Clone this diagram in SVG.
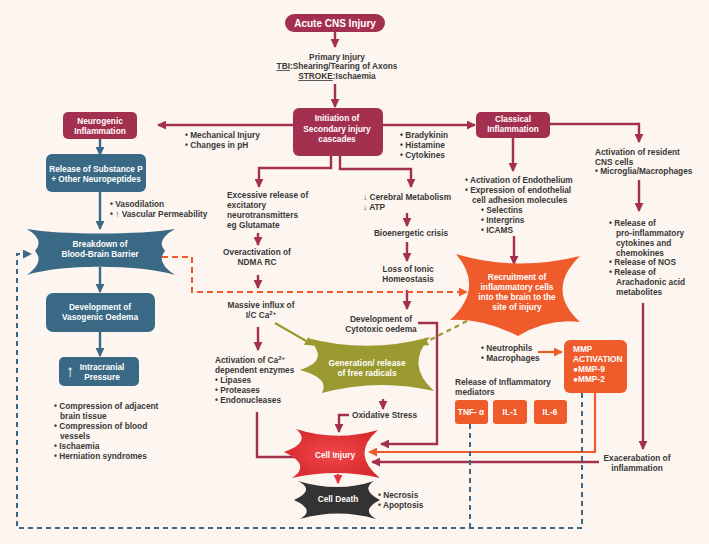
<svg xmlns="http://www.w3.org/2000/svg" width="709" height="544" viewBox="0 0 709 544">
<defs>
<style>
.t{font-family:"Liberation Sans",Arial,sans-serif;font-size:8.3px;font-weight:bold;fill:#383838}
.w{font-family:"Liberation Sans",Arial,sans-serif;font-size:8.3px;font-weight:bold;fill:#fff}
.m{text-anchor:middle}
.cm{fill:none;stroke:#a4304f;stroke-width:2.4}
.ct{fill:none;stroke:#3a6985;stroke-width:2.4}
.co{fill:none;stroke:#ef5b2b;stroke-width:2.2}
.cg{fill:none;stroke:#9b9a30;stroke-width:2.2}
.cr{fill:none;stroke:#e4363a;stroke-width:2.4}
.db{fill:none;stroke:#3a6985;stroke-width:2;stroke-dasharray:5 4}
.do{fill:none;stroke:#ef5b2b;stroke-width:2;stroke-dasharray:6 4}
.dg{fill:none;stroke:#9b9a30;stroke-width:2.2;stroke-dasharray:5 4}
.bm{fill:#a4304f}
.bt{fill:#3a6985}
.bo{fill:#ef5b2b}
</style>
<marker id="am" viewBox="0 0 10 10" refX="9" refY="5" markerWidth="9" markerHeight="9" markerUnits="userSpaceOnUse" orient="auto"><path d="M0,0 L10,5 L0,10 z" fill="#a4304f"/></marker>
<marker id="at" viewBox="0 0 10 10" refX="9" refY="5" markerWidth="9" markerHeight="9" markerUnits="userSpaceOnUse" orient="auto"><path d="M0,0 L10,5 L0,10 z" fill="#3a6985"/></marker>
<marker id="ao" viewBox="0 0 10 10" refX="9" refY="5" markerWidth="9" markerHeight="9" markerUnits="userSpaceOnUse" orient="auto"><path d="M0,0 L10,5 L0,10 z" fill="#ef5b2b"/></marker>
<marker id="ag" viewBox="0 0 10 10" refX="9" refY="5" markerWidth="9" markerHeight="9" markerUnits="userSpaceOnUse" orient="auto"><path d="M0,0 L10,5 L0,10 z" fill="#9b9a30"/></marker>
<marker id="ar" viewBox="0 0 10 10" refX="9" refY="5" markerWidth="9" markerHeight="9" markerUnits="userSpaceOnUse" orient="auto"><path d="M0,0 L10,5 L0,10 z" fill="#e4363a"/></marker>
<marker id="ab" viewBox="0 0 10 10" refX="9" refY="5" markerWidth="9" markerHeight="9" markerUnits="userSpaceOnUse" orient="auto"><path d="M0,0 L10,5 L0,10 z" fill="#3a6985"/></marker>
<radialGradient id="gr" cx="50%" cy="50%" r="55%"><stop offset="0" stop-color="#f0474a"/><stop offset="1" stop-color="#d82a2f"/></radialGradient>
</defs>
<rect width="709" height="544" fill="#fdf6f0"/>

<g id="connectors">
<path class="cm" d="M335,32 V47" marker-end="url(#am)"/>
<path class="cm" d="M335,84 V107" marker-end="url(#am)"/>
<path class="cm" d="M293,125 H158" marker-end="url(#am)"/>
<path class="cm" d="M383,125 H475" marker-end="url(#am)"/>
<path class="ct" d="M100,139 V155" marker-end="url(#at)"/>
<path class="ct" d="M100,192 V229" marker-end="url(#at)"/>
<path class="ct" d="M100,267 V292" marker-end="url(#at)"/>
<path class="ct" d="M100,332 V356" marker-end="url(#at)"/>
<path class="cm" d="M331,156 V168 H259 V187" marker-end="url(#am)"/>
<path class="cm" d="M340,156 V169 H411 V187" marker-end="url(#am)"/>
<path class="cm" d="M258,233 V245" marker-end="url(#am)"/>
<path class="cm" d="M258,275 V288" marker-end="url(#am)"/>
<path class="cm" d="M258,327 V350" marker-end="url(#am)"/>
<path class="cm" d="M407,213 V226" marker-end="url(#am)"/>
<path class="cm" d="M407,242 V261" marker-end="url(#am)"/>
<path class="cm" d="M407,290 V309" marker-end="url(#am)"/>
<path class="cm" d="M418,323 H437 V444 H381" marker-end="url(#am)"/>
<path class="cg" d="M275,323 L313,345" marker-end="url(#ag)"/>
<path class="dg" d="M475,317 L420,345" marker-end="url(#ag)"/>
<path class="do" d="M162,257 H192 V292 H467" marker-end="url(#ao)"/>
<path class="cm" d="M383,399 V409" marker-end="url(#am)"/>
<path class="cm" d="M349,415 H339 V432" marker-end="url(#am)"/>
<path class="cm" d="M257,412 V457 H305" marker-end="url(#am)"/>
<path class="cr" d="M338,474 V483" marker-end="url(#ar)"/>
<path class="cm" d="M513,138 V171" marker-end="url(#am)"/>
<path class="cm" d="M514,236 V264" marker-end="url(#am)"/>
<path class="cm" d="M550,124 H639 V142" marker-end="url(#am)"/>
<path class="cm" d="M639,180 V211" marker-end="url(#am)"/>
<path class="cm" d="M643,303 V449" marker-end="url(#am)"/>
<path class="cm" d="M599,462 H372" marker-end="url(#am)"/>
<path class="co" d="M595,393 V452 H369" marker-end="url(#ao)"/>
<path class="co" d="M538,352 H562" marker-end="url(#ao)"/>
<path class="db" d="M582,393 V528 H17 V254 H31" marker-end="url(#ab)"/>
<path class="db" d="M470,424 V528"/>
</g>

<g id="acute">
<rect class="bm" x="285" y="14" width="100" height="18" rx="9"/>
<text class="w m" x="335" y="27" style="font-size:10px">Acute CNS Injury</text>
</g>
<g id="primary">
<text class="t m" x="337" y="60">Primary Injury</text>
<text class="t m" x="337" y="69"><tspan text-decoration="underline">TBI</tspan>:Shearing/Tearing of Axons</text>
<text class="t m" x="337" y="79"><tspan text-decoration="underline">STROKE</tspan>:Ischaemia</text>
</g>
<g id="secondary">
<rect class="bm" x="293" y="108" width="90" height="48" rx="6"/>
<text class="w m" x="337" y="121">Initiation of</text>
<text class="w m" x="337" y="132">Secondary injury</text>
<text class="w m" x="337" y="142">cascades</text>
</g>
<g id="mech">
<text class="t" x="185" y="138">• Mechanical Injury</text>
<text class="t" x="185" y="148">• Changes in pH</text>
</g>
<g id="brady">
<text class="t" x="400" y="138">• Bradykinin</text>
<text class="t" x="400" y="148">• Histamine</text>
<text class="t" x="400" y="158">• Cytokines</text>
</g>

<g id="neurogenic">
<rect class="bm" x="63" y="112" width="74" height="27" rx="5"/>
<text class="w m" x="100" y="124">Neurogenic</text>
<text class="w m" x="100" y="134">Inflammation</text>
</g>
<g id="substanceP">
<rect class="bt" x="46" y="154" width="100" height="38" rx="6"/>
<text class="w m" x="96" y="172">Release of Substance P</text>
<text class="w m" x="96" y="182">+ Other Neuropeptides</text>
</g>
<g id="vaso">
<text class="t" x="110" y="207">• Vasodilation</text>
<text class="t" x="110" y="217">• ↑ Vascular Permeability</text>
</g>
<g id="bbb">
<path class="bt" d="M27,229 C60,235 140,235 175,229 Q155,240 165,251 Q155,262 175,275 C140,264 60,264 27,275 Q45,262 35,251 Q45,240 27,229 Z"/>
<text class="w m" x="100" y="247">Breakdown of</text>
<text class="w m" x="100" y="257">Blood-Brain Barrier</text>
</g>
<g id="vasogenic">
<rect class="bt" x="46" y="293" width="109" height="39" rx="7"/>
<text class="w m" x="100" y="310">Development of</text>
<text class="w m" x="100" y="320">Vasogenic Oedema</text>
</g>
<g id="icp">
<rect class="bt" x="59" y="357" width="80" height="29" rx="5"/>
<text class="w m" x="70" y="377" style="font-size:17px">↑</text>
<text class="w m" x="102" y="370">Intracranial</text>
<text class="w m" x="102" y="380">Pressure</text>
</g>
<g id="icpEffects">
<text class="t" x="54" y="409">• Compression of adjacent</text>
<text class="t" x="60" y="419">brain tissue</text>
<text class="t" x="54" y="429">• Compression of blood</text>
<text class="t" x="60" y="439">vessels</text>
<text class="t" x="54" y="449">• Ischaemia</text>
<text class="t" x="54" y="459">• Herniation syndromes</text>
</g>

<g id="excessive">
<text class="t" x="227" y="198">Excessive release of</text>
<text class="t" x="227" y="208">excitatory</text>
<text class="t" x="227" y="218">neurotransmitters</text>
<text class="t" x="227" y="228">eg Glutamate</text>
</g>
<g id="ndma">
<text class="t m" x="257" y="255">Overactivation of</text>
<text class="t m" x="257" y="265">NDMA RC</text>
</g>
<g id="influx">
<text class="t m" x="261" y="308">Massive influx of</text>
<text class="t m" x="261" y="318">I/C Ca<tspan dy="-3" style="font-size:6px">2+</tspan></text>
</g>
<g id="enzymes">
<text class="t" x="215" y="363">Activation of  Ca<tspan dy="-3" style="font-size:6px">2+</tspan></text>
<text class="t" x="215" y="373">dependent enzymes</text>
<text class="t" x="215" y="383">• Lipases</text>
<text class="t" x="215" y="393">• Proteases</text>
<text class="t" x="215" y="403">• Endonucleases</text>
</g>

<g id="metabolism">
<text class="t" x="363" y="200">↓ Cerebral Metabolism</text>
<text class="t" x="363" y="210">↓ ATP</text>
</g>
<g id="bioenergetic">
<text class="t m" x="411" y="236">Bioenergetic crisis</text>
</g>
<g id="ionic">
<text class="t m" x="408" y="272">Loss of Ionic</text>
<text class="t m" x="408" y="282">Homeostasis</text>
</g>
<g id="cytotoxic">
<text class="t m" x="381" y="322">Development of</text>
<text class="t m" x="381" y="332">Cytotoxic oedema</text>
</g>
<g id="freeRadicals">
<path fill="#9b9a30" d="M307,338 Q368,354 430,337 Q405,365 434,391 Q378,378 322,393 Q330,378 300,370 Q332,360 307,338 Z"/>
<text class="w m" x="367" y="366">Generation/ release</text>
<text class="w m" x="367" y="376">of free radicals</text>
</g>
<g id="oxidative">
<text class="t" x="352" y="418">Oxidative Stress</text>
</g>
<g id="cellInjury">
<path fill="url(#gr)" d="M296,429 Q336,442 378,430 Q350,454 380,478 Q336,468 292,478 Q312,465 284,452 Q312,442 296,429 Z"/>
<text class="w m" x="335" y="458">Cell Injury</text>
</g>
<g id="cellDeath">
<path fill="#333" d="M298,481 Q338,493 374,481 Q360,490 380,500 Q360,510 376,519 Q338,508 300,519 Q316,510 294,500 Q316,490 298,481 Z"/>
<text class="w m" x="338" y="502">Cell Death</text>
</g>
<g id="deathTypes">
<text class="t" x="378" y="498">• Necrosis</text>
<text class="t" x="378" y="508">• Apoptosis</text>
</g>

<g id="classical">
<rect class="bm" x="476" y="112" width="74" height="26" rx="5"/>
<text class="w m" x="513" y="122">Classical</text>
<text class="w m" x="513" y="132">Inflammation</text>
</g>
<g id="endothelium">
<text class="t" x="465" y="183">• Activation of Endothelium</text>
<text class="t" x="465" y="193">• Expression of endothelial</text>
<text class="t" x="472" y="203">cell adhesion molecules</text>
<text class="t" x="481" y="213">• Selectins</text>
<text class="t" x="481" y="223">• Intergrins</text>
<text class="t" x="481" y="233">• ICAMS</text>
</g>
<g id="resident">
<text class="t" x="595" y="155">Activation of resident</text>
<text class="t" x="595" y="165">CNS cells</text>
<text class="t" x="595" y="174">• Microglia/Macrophages</text>
</g>
<g id="releases">
<text class="t" x="609" y="226">• Release of</text>
<text class="t" x="616" y="236">pro-inflammatory</text>
<text class="t" x="616" y="246">cytokines and</text>
<text class="t" x="616" y="256">chemokines</text>
<text class="t" x="609" y="265">• Release of NOS</text>
<text class="t" x="609" y="275">• Release of</text>
<text class="t" x="616" y="285">Arachadonic acid</text>
<text class="t" x="616" y="295">metabolites</text>
</g>
<g id="recruitment">
<path class="bo" d="M456,254 Q516,272 580,256 Q545,290 580,322 Q548,318 518,336 Q482,318 450,320 Q485,288 456,254 Z"/>
<text class="w m" x="517" y="280">Recruitment of</text>
<text class="w m" x="517" y="290">inflammatory cells</text>
<text class="w m" x="517" y="300">into the brain to the</text>
<text class="w m" x="517" y="310">site of injury</text>
</g>
<g id="cells">
<text class="t" x="481" y="351">• Neutrophils</text>
<text class="t" x="481" y="361">• Macrophages</text>
</g>
<g id="mmp">
<rect class="bo" x="564" y="340" width="63" height="53" rx="6"/>
<text class="w" x="573" y="352">MMP</text>
<text class="w" x="573" y="362">ACTIVATION</text>
<text class="w" x="573" y="372">●MMP-9</text>
<text class="w" x="573" y="382">●MMP-2</text>
</g>
<g id="mediators">
<text class="t" x="455" y="385">Release of Inflammatory</text>
<text class="t" x="455" y="395">mediators</text>
</g>
<g id="tnf">
<rect class="bo" x="455" y="400" width="33" height="24" rx="3"/>
<text class="w m" x="471" y="415">TNF- α</text>
</g>
<g id="il1">
<rect class="bo" x="493" y="400" width="34" height="24" rx="3"/>
<text class="w m" x="510" y="415">IL-1</text>
</g>
<g id="il6">
<rect class="bo" x="534" y="400" width="33" height="24" rx="3"/>
<text class="w m" x="550" y="415">IL-6</text>
</g>
<g id="exacerbation">
<text class="t m" x="637" y="461">Exacerabation of</text>
<text class="t m" x="637" y="471">inflammation</text>
</g>
</svg>
